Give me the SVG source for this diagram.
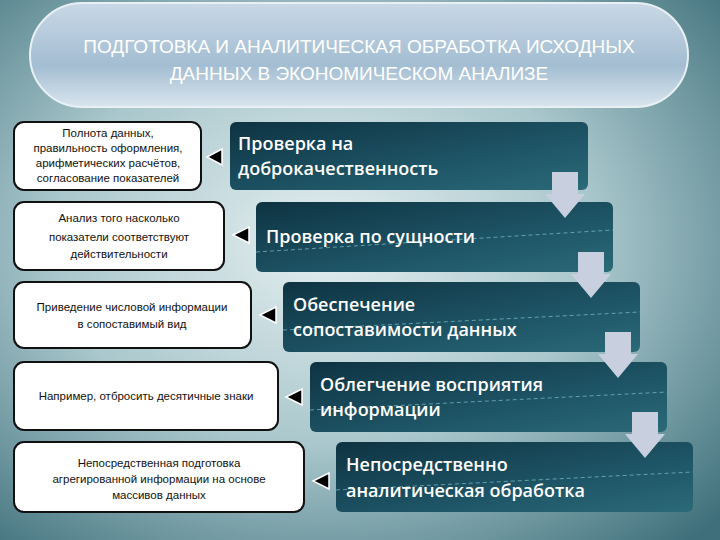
<svg xmlns="http://www.w3.org/2000/svg" width="720" height="540" viewBox="0 0 720 540">
<defs>
<radialGradient id="bg" cx="0.45" cy="0.45" r="0.75">
<stop offset="0" stop-color="#e4eef0"/><stop offset="0.5" stop-color="#a9c7cc"/><stop offset="1" stop-color="#3e6f7a"/>
</radialGradient>
<linearGradient id="ban" x1="0" y1="0" x2="0" y2="1">
<stop offset="0" stop-color="#c9d8e6"/><stop offset="0.6" stop-color="#a3bdd2"/><stop offset="1" stop-color="#d9e5ee"/>
</linearGradient>
<linearGradient id="dk" x1="0" y1="0" x2="1" y2="1">
<stop offset="0" stop-color="#0e3342"/><stop offset="0.6" stop-color="#1e5566"/><stop offset="1" stop-color="#2b6a78"/>
</linearGradient>
<style>
.dk{fill:url(#dk)}
.wb{fill:#fff;stroke:#111;stroke-width:2}
.wt{font-family:"Liberation Sans",Arial,sans-serif;font-size:11.5px;fill:#111;text-anchor:middle}
.bt{font-family:"Open Sans","DejaVu Sans",sans-serif;font-size:18px;font-weight:600;fill:#fff}
.la{fill:#000;stroke:#fff;stroke-width:1.5}
.da{fill:#c8d0e0}
.dl{stroke:#8fd0dc;stroke-width:1;stroke-dasharray:4 3;fill:none;opacity:0.6}
</style>
</defs>
<rect width="720" height="540" fill="url(#bg)"/>
<g id="title">
<rect x="30" y="3" width="658" height="104" rx="52" fill="url(#ban)" stroke="#e8f0f4" stroke-width="2"/>
<text x="359" y="53" font-family="Liberation Sans,Arial,sans-serif" font-size="19" fill="#fff" text-anchor="middle">ПОДГОТОВКА И АНАЛИТИЧЕСКАЯ ОБРАБОТКА ИСХОДНЫХ</text>
<text x="359" y="80" font-family="Liberation Sans,Arial,sans-serif" font-size="19" fill="#fff" text-anchor="middle">ДАННЫХ В ЭКОНОМИЧЕСКОМ АНАЛИЗЕ</text>
</g>
<g id="s1"><rect class="dk" x="230" y="122" width="358" height="68" rx="6"/><text class="bt" x="238" y="150">Проверка на</text><text class="bt" x="238" y="175">доброкачественность</text></g>
<g id="s2"><rect class="dk" x="256" y="202" width="357" height="70" rx="6"/><path class="dl" d="M256 252 L613 230"/><text class="bt" x="266" y="243">Проверка по сущности</text></g>
<g id="s3"><rect class="dk" x="283" y="282" width="357" height="70" rx="6"/><path class="dl" d="M283 330 L640 312"/><text class="bt" x="293" y="311">Обеспечение</text><text class="bt" x="293" y="336">сопоставимости данных</text></g>
<g id="s4"><rect class="dk" x="310" y="362" width="357" height="70" rx="6"/><path class="dl" d="M310 410 L667 392"/><text class="bt" x="320" y="391">Облегчение восприятия</text><text class="bt" x="320" y="416">информации</text></g>
<g id="s5"><rect class="dk" x="336" y="442" width="357" height="70" rx="6"/><path class="dl" d="M336 490 L693 472"/><text class="bt" x="346" y="471">Непосредственно</text><text class="bt" x="346" y="497">аналитическая обработка</text></g>
<g id="w1"><rect class="wb" x="14" y="122" width="187" height="68" rx="10"/>
<text class="wt" x="108" y="137">Полнота данных,</text><text class="wt" x="108" y="152">правильность оформления,</text><text class="wt" x="108" y="167">арифметических расчётов,</text><text class="wt" x="108" y="182">согласование показателей</text></g>
<g id="w2"><rect class="wb" x="14" y="202" width="210" height="68" rx="10"/>
<text class="wt" x="119" y="222">Анализ того насколько</text><text class="wt" x="119" y="241">показатели соответствуют</text><text class="wt" x="119" y="258">действительности</text></g>
<g id="w3"><rect class="wb" x="14" y="282" width="237" height="66" rx="10"/>
<text class="wt" x="132" y="311">Приведение числовой информации</text><text class="wt" x="132" y="328">в сопоставимый вид</text></g>
<g id="w4"><rect class="wb" x="14" y="362" width="264" height="68" rx="10"/>
<text class="wt" x="146" y="400">Например, отбросить десятичные знаки</text></g>
<g id="w5"><rect class="wb" x="14" y="442" width="290" height="70" rx="10"/>
<text class="wt" x="159" y="467">Непосредственная подготовка</text><text class="wt" x="159" y="483">агрегированной информации на основе</text><text class="wt" x="159" y="499">массивов данных</text></g>
<g id="connectors">
<path class="da" d="M552 172h26v22h7l-20 24l-20-24h7z"/>
<path class="da" d="M578 252h26v22h7l-20 24l-20-24h7z"/>
<path class="da" d="M605 332h26v22h7l-20 24l-20-24h7z"/>
<path class="da" d="M632 412h26v22h7l-20 24l-20-24h7z"/>
<path class="la" d="M207 157l15-8v16z"/>
<path class="la" d="M233 235l16-8v16z"/>
<path class="la" d="M260 315l16-8v16z"/>
<path class="la" d="M286 397l16-8v16z"/>
<path class="la" d="M313 481l16-8v16z"/>
</g>
</svg>
